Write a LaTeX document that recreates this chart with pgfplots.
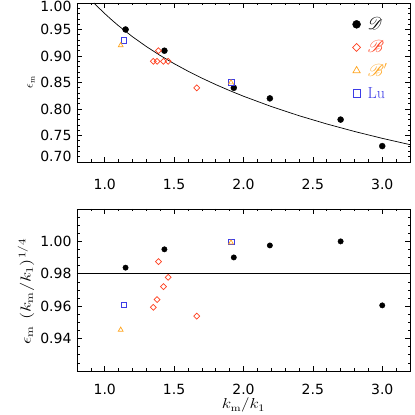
\documentclass[border=0pt]{standalone}
\usepackage{pgfplots}
\pgfplotsset{compat=1.18}
\usepackage{fontspec}
\usepackage{mathrsfs}
\newfontfamily\tickfont{DejaVu Sans}
\definecolor{dred}{RGB}{255,64,32}
\definecolor{dorange}{RGB}{255,165,32}
\definecolor{dblue}{RGB}{60,60,230}
\newcommand{\wide}[2][1.3]{\scalebox{#1}[1]{#2}}

\pgfplotsset{
  panel/.style={
    scale only axis, width=333pt,
    xmin=0.8, xmax=3.2,
    axis line style={line width=0.8pt},
    tick style={black, line width=0.6pt},
    major tick length=5pt, minor tick length=2.5pt,
    tick align=inside,
    xtick={1.0,1.5,2.0,2.5,3.0},
    xticklabels={1.0,1.5,2.0,2.5,3.0},
    minor xtick={0.9,1.1,1.2,1.3,1.4,1.6,1.7,1.8,1.9,2.1,2.2,2.3,2.4,2.6,2.7,2.8,2.9,3.1},
    ticklabel style={font=\tickfont\fontsize{14}{16}\selectfont},
    xticklabel style={yshift=-11pt},
    yticklabel style={xshift=-2pt},
  },
  dia/.style={only marks, mark=square, mark options={rotate=45, line width=0.7pt}, dred},
}

\begin{document}
\begin{tikzpicture}[x=1pt,y=1pt]
\useasboundingbox (0,0) rectangle (415,415);

% upper panel
\begin{axis}[panel,
  at={(77pt,253pt)}, anchor=south west, height=159pt,
  ymin=0.70, ymax=1.00,
  ytick={0.70,0.75,0.80,0.85,0.90,0.95,1.00},
  yticklabels={\raisebox{0pt}[0pt][0pt]{0.70},0.75,0.80,0.85,0.90,0.95,\raisebox{-9pt}[0pt][0pt]{1.00}},
  minor y tick num=4,
  xticklabel style={yshift=-3pt},
  ylabel={$\epsilon_{\rm m}$},
  ylabel style={font=\fontsize{12}{14}\selectfont, at={(axis description cs:-0.138,0.5)}, anchor=center},
  legend style={draw=none, fill=none, at={(0.815,0.935)}, anchor=north west,
    row sep=5.5pt, column sep=4pt, font=\fontsize{16}{18}\selectfont},
  legend cell align=left,
  legend image code/.code={\draw[#1] plot coordinates {(0pt,0pt)};
    \path[draw=none, fill=none] (-5pt,-5pt) rectangle (5pt,5pt);},
]
\addplot[black, line width=0.7pt, forget plot] coordinates {
(0.922,1.0001) (0.95,0.99265) (1.0,0.98) (1.05,0.96812) (1.1,0.95692)
(1.2,0.93634) (1.3,0.91779) (1.4,0.90093) (1.5,0.88553) (1.6,0.87136)
(1.7,0.85825) (1.8,0.84607) (1.9,0.83472) (2.0,0.82408) (2.2,0.80468)
(2.4,0.78735) (2.6,0.77176) (2.8,0.75760) (3.0,0.74464) (3.2,0.73273)};
\addplot[only marks, mark=*, mark size=3pt, black, forget plot] coordinates {
(1.15,0.95) (1.43,0.91) (1.93,0.84) (2.19,0.82) (2.70,0.78) (3.00,0.73)};
\addplot[dia, mark size=2.1pt, forget plot] coordinates {
(1.387,0.91) (1.35,0.89) (1.377,0.89) (1.423,0.89) (1.457,0.89) (1.663,0.84)};
\addplot[only marks, mark=square, mark size=2.8pt, dblue, mark options={line width=0.7pt}, forget plot] coordinates {
(1.139,0.93) (1.913,0.85)};
\addplot[only marks, mark=triangle, mark size=2.8pt, dorange, mark options={line width=0.7pt}, forget plot] coordinates {
(1.115,0.92) (1.91,0.85)};
\addlegendimage{only marks, mark=*, mark size=4pt, black}
\addlegendentry{$\mathscr{D}$}
\addlegendimage{dia, mark size=2.8pt}
\addlegendentry{\textcolor{dred}{$\mathscr{B}$}}
\addlegendimage{only marks, mark=triangle, mark size=4.2pt, dorange, mark options={line width=0.7pt}}
\addlegendentry{\textcolor{dorange}{$\mathscr{B}'$}}
\addlegendimage{only marks, mark=square, mark size=3.6pt, dblue, mark options={line width=0.7pt}}
\addlegendentry{\textcolor{dblue}{Lu}}
\end{axis}

% lower panel
\begin{axis}[panel,
  at={(77pt,44pt)}, anchor=south west, height=162pt,
  ymin=0.92, ymax=1.02,
  ytick={0.92,0.94,0.96,0.98,1.00,1.02},
  yticklabels={{},0.94,0.96,0.98,1.00,{}},
  minor y tick num=3,
  xticklabel style={yshift=1pt},
  xlabel={\wide[1.2]{$k_{\rm m}/k_1$}},
  ylabel={\wide{$\epsilon_{\rm m}\ (k_{\rm m}/k_1)^{1/4}$}},
  label style={font=\fontsize{14}{16}\selectfont},
  ylabel style={at={(axis description cs:-0.153,0.49)}, anchor=center},
  xlabel style={at={(axis description cs:0.5,-0.212)}, anchor=center, inner sep=0pt},
]
\addplot[black, line width=0.7pt] coordinates {(0.8,0.98) (3.2,0.98)};
\addplot[only marks, mark=*, mark size=2.7pt, black] coordinates {
(1.15,0.9838) (1.43,0.9951) (1.93,0.9901) (2.19,0.9975) (2.70,1.0000) (3.00,0.9605)};
\addplot[dia, mark size=2.1pt] coordinates {
(1.387,0.9875) (1.35,0.9593) (1.377,0.9641) (1.423,0.9721) (1.457,0.9778) (1.663,0.9539)};
\addplot[only marks, mark=square, mark size=2.8pt, dblue, mark options={line width=0.7pt}] coordinates {
(1.139,0.9608) (1.913,0.9996)};
\addplot[only marks, mark=triangle, mark size=2.8pt, dorange, mark options={line width=0.7pt}] coordinates {
(1.115,0.9454) (1.91,0.9992)};
\end{axis}
\end{tikzpicture}
\end{document}
